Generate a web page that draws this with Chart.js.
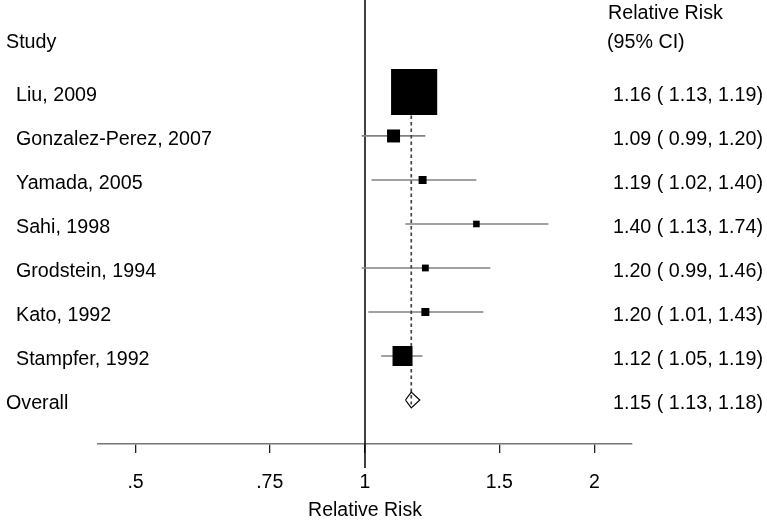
<!DOCTYPE html>
<html lang="en">
<head>
    <meta charset="UTF-8">
    <title>Forest plot</title>
    <script src="https://cdn.jsdelivr.net/npm/chart.js"></script>
    <style>
        body {
            margin: 0;
            padding: 0;
            background: white;
        }
        .wrap {
            width: 767px;
            height: 524px;
            position: relative;
        }
    </style>
</head>
<body>
    <div class="wrap">
        <canvas id="forestChart"></canvas>
    </div>

    <script>
        // study data
        const studies = ['Liu, 2009', 'Gonzalez-Perez, 2007', 'Yamada, 2005', 'Sahi, 1998',
                         'Grodstein, 1994', 'Kato, 1992', 'Stampfer, 1992'];
        const rr = [1.16, 1.09, 1.19, 1.40, 1.20, 1.20, 1.12];
        const lower = [1.13, 0.99, 1.02, 1.13, 0.99, 1.01, 1.05];
        const upper = [1.19, 1.20, 1.40, 1.74, 1.46, 1.43, 1.19];
        const weights = [73.0, 5.8, 2.2, 1.5, 1.6, 2.2, 13.7];   // % weight, sets box area

        const overallLabel = 'Overall';
        const overall = [1.15, 1.13, 1.18];   // estimate, lower, upper

        const xTicks = [0.5, 0.75, 1, 1.5, 2];
        const xTickLabels = ['.5', '.75', '1', '1.5', '2'];

        const FONT = '"Liberation Sans", Arial, sans-serif';
        const overallRow = studies.length + 1;

        function boxSide(w) {
            return 5.4 * Math.sqrt(w);
        }

        function ciText(est, lo, hi) {
            return est.toFixed(2) + ' ( ' + lo.toFixed(2) + ', ' + hi.toFixed(2) + ')';
        }

        // null line at 1 and the text columns
        const forestText = {
            id: 'forestText',
            beforeDatasetsDraw(chart) {
                const ctx = chart.ctx;
                const x = chart.scales.x.getPixelForValue(1);
                ctx.save();
                ctx.strokeStyle = '#000';
                ctx.lineWidth = 1.5;
                ctx.beginPath();
                ctx.moveTo(x, chart.chartArea.top);
                ctx.lineTo(x, chart.chartArea.bottom + 24);
                ctx.stroke();
                ctx.restore();
            },
            afterDraw(chart) {
                const ctx = chart.ctx;
                const y = chart.scales.y;
                const base = v => y.getPixelForValue(v) + 8.8;
                ctx.save();
                ctx.fillStyle = '#000';
                ctx.font = '19.7px ' + FONT;
                ctx.textBaseline = 'alphabetic';
                ctx.textAlign = 'left';

                ctx.fillText('Study', 6, base(-0.19));
                ctx.fillText('Relative Risk', 608, base(-0.85));
                ctx.fillText('(95% CI)', 607, base(-0.19));

                studies.forEach((s, i) => {
                    ctx.fillText(s, 16, base(i + 1));
                    ctx.fillText(ciText(rr[i], lower[i], upper[i]), 613, base(i + 1));
                });
                ctx.fillText(overallLabel, 6, base(overallRow));
                ctx.fillText(ciText(overall[0], overall[1], overall[2]), 613, base(overallRow));
                ctx.restore();
            }
        };

        const datasets = [];

        datasets.push({
            label: 'boxes',
            data: studies.map((s, i) => ({x: rr[i], y: i + 1})),
            pointStyle: 'rect',
            pointRadius: c => boxSide(weights[c.dataIndex]) / Math.SQRT2,
            pointHoverRadius: c => boxSide(weights[c.dataIndex]) / Math.SQRT2,
            backgroundColor: '#000',
            borderWidth: 0,
            showLine: false
        });

        datasets.push({
            label: 'diamond',
            data: [
                {x: overall[1], y: overallRow},
                {x: overall[0], y: overallRow - 0.18},
                {x: overall[2], y: overallRow},
                {x: overall[0], y: overallRow + 0.18},
                {x: overall[1], y: overallRow}
            ],
            showLine: true,
            borderColor: '#000',
            borderWidth: 1.2,
            pointRadius: 0,
            fill: false
        });

        datasets.push({
            label: 'overall line',
            data: [{x: overall[0], y: 0.5}, {x: overall[0], y: overallRow + 0.1}],
            showLine: true,
            borderColor: '#444',
            borderWidth: 1.7,
            borderDash: [3.5, 3],
            pointRadius: 0
        });

        studies.forEach((s, i) => {
            datasets.push({
                label: s + ' CI',
                data: [{x: lower[i], y: i + 1}, {x: upper[i], y: i + 1}],
                showLine: true,
                borderColor: '#828282',
                borderWidth: 1.7,
                pointRadius: 0
            });
        });

        const ctx = document.getElementById('forestChart').getContext('2d');
        new Chart(ctx, {
            type: 'scatter',
            data: {datasets: datasets},
            plugins: [forestText],
            options: {
                responsive: true,
                maintainAspectRatio: false,
                animation: false,
                layout: {
                    autoPadding: false,
                    padding: {left: 98, right: 135, top: 0, bottom: 0}
                },
                plugins: {
                    legend: {display: false},
                    tooltip: {enabled: false}
                },
                scales: {
                    x: {
                        type: 'logarithmic',
                        min: 1 / 2.24,
                        max: 2.24,
                        afterBuildTicks: scale => {
                            scale.ticks = xTicks.map(v => ({value: v}));
                        },
                        afterFit: scale => {
                            scale.height = 80;
                        },
                        ticks: {
                            autoSkip: false,
                            maxRotation: 0,
                            padding: 18,
                            color: '#000',
                            font: {size: 19.5, family: FONT},
                            callback: (value, index) => xTickLabels[index]
                        },
                        grid: {
                            drawOnChartArea: false,
                            drawTicks: true,
                            tickLength: 9,
                            color: '#222',
                            lineWidth: 1.3
                        },
                        border: {
                            display: true,
                            color: '#777',
                            width: 1.5
                        },
                        title: {
                            display: true,
                            text: 'Relative Risk',
                            color: '#000',
                            font: {size: 19.5, family: FONT},
                            padding: {top: 0, bottom: 2}
                        }
                    },
                    y: {
                        type: 'linear',
                        display: false,
                        reverse: true,
                        min: -1.09,
                        max: 9
                    }
                }
            }
        });
    </script>
</body>
</html>
